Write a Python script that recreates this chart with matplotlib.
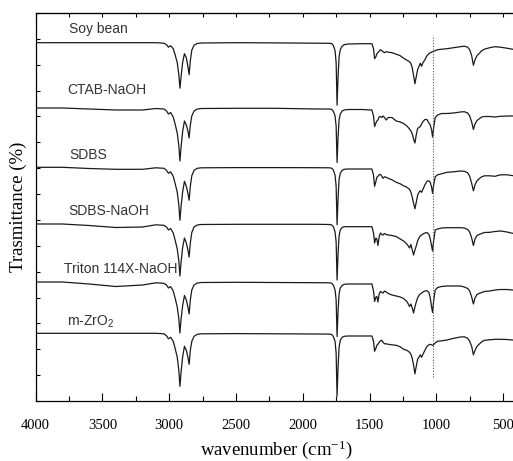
import numpy as np
import matplotlib
matplotlib.use("Agg")
import matplotlib.pyplot as plt

# FTIR spectra, stacked. Values are dips below each trace's baseline (arb. units)
wavenumber = [4000, 3800, 3600, 3400, 3200, 3100, 3040, 3020, 3006, 2990,
              2970, 2956, 2940, 2928, 2920, 2912, 2900, 2886, 2872, 2860,
              2851, 2842, 2831, 2814, 2790, 2760, 2500, 2200, 1900, 1800,
              1782, 1770, 1758, 1750, 1743, 1736, 1728, 1719, 1705, 1690,
              1660, 1560, 1482, 1470, 1462, 1452, 1445, 1437, 1428, 1418,
              1408, 1398, 1388, 1375, 1360, 1332, 1300, 1270, 1245, 1220,
              1200, 1190, 1180, 1170, 1160, 1150, 1140, 1130, 1120, 1110,
              1100, 1085, 1070, 1055, 1045, 1035, 1028, 1020, 1008, 990,
              960, 920, 870, 820, 790, 765, 750, 735, 722, 710,
              695, 680, 660, 640, 600, 560, 520, 470, 430, 400]

soy_bean = [0, 0, 0, 0, 0, 0, 0.5, 2, 4.5, 3,
            6, 12, 20, 32, 45.5, 35, 20, 11, 15, 24,
            32, 18, 7.5, 2.5, 0.8, 0.3, 0, 0.2, 0.5, 0.6,
            1, 3, 8, 20, 62.5, 35, 14, 7, 3.5, 2,
            1.3, 1, 1, 6, 16, 14, 11, 10, 8.5, 7,
            8, 9, 10, 9, 9.5, 10, 11.5, 13, 15.5, 17.5,
            19, 21, 25, 33, 41, 34, 27, 24, 20.5, 23.5,
            20, 17, 13, 11, 10, 9.5, 9, 8.5, 8, 7,
            6.5, 6, 5, 4, 3.5, 4.5, 7, 13, 22.5, 17,
            13, 11, 8, 6.5, 5, 4, 4.5, 5.5, 6.5, 7]

ctab_naoh = [0, 0, 1, 2, 2, 0.5, 1, 3, 6, 4.5,
             9, 16, 25, 38, 53, 40, 24, 13, 17, 23,
             30, 17, 8, 3, 1, 0.5, 0.3, 0.3, 1, 1,
             1.5, 3.5, 8, 18, 54.5, 30, 12, 6, 3, 2,
             1.5, 1.5, 2, 8, 18.5, 15, 13, 12, 9, 8.5,
             9.5, 8, 9.5, 12, 9.5, 9.5, 13, 14, 15.5, 18,
             21, 23, 26, 31, 35, 27, 20.5, 19.5, 18.5, 16,
             13.5, 11.5, 11.5, 15, 17, 22, 29, 20, 9.5, 7,
             5.5, 5.5, 5, 4, 3.7, 5, 8, 14, 21.5, 16,
             12.5, 11, 9, 8.5, 8.5, 9, 8.3, 8, 8, 8]

sdbs = [0, 0, 1.2, 2, 2, 0.5, 1, 3, 6, 4.5,
        9, 16, 25, 38, 53, 40, 25, 14, 19, 26,
        33, 19, 8.5, 3, 1, 0.5, 0.3, 0.3, 0.4, 0.5,
        1, 3, 8, 19, 57.5, 32, 12, 6, 3, 2,
        1.7, 1.7, 1.7, 8, 19, 14, 10, 9, 7.5, 7,
        9, 11, 9.5, 10, 11, 12.5, 15, 16.5, 18.5, 20,
        22, 25, 30, 36, 41.5, 35, 28, 25, 23.5, 25,
        22, 17.5, 14, 13.5, 15, 20, 26, 18, 9.5, 7.5,
        6.5, 5, 4.5, 3.7, 4, 5.5, 9, 16, 23.5, 17.5,
        13.5, 11.5, 9.5, 8.5, 8.5, 9, 7.5, 7.5, 8.3, 8.5]

sdbs_naoh = [0, 0, 1.5, 3.5, 3, 0.8, 1.3, 3, 6, 4.5,
             9, 16, 25, 37, 52, 39, 24, 14, 19, 26,
             33, 19, 8.5, 3, 1, 0.5, 0.3, 0.3, 0.3, 0.5,
             1, 3, 8, 18, 56, 31, 12, 6, 3.5, 2.7,
             2.7, 2.7, 2.7, 9, 19, 14, 15, 21.5, 13, 9,
             10.5, 11, 9.5, 10.5, 11, 11.5, 12.5, 15, 17, 20,
             24, 20.5, 26, 31, 26, 22, 17, 14, 12, 11,
             10, 9, 8.5, 10.5, 15, 22, 27, 17, 6, 5,
             4, 3.7, 3.7, 3.7, 4, 5.5, 8, 14, 21.5, 15,
             11.5, 10.5, 9.5, 8.5, 8.3, 7.5, 7, 8, 9.3, 9.5]

triton_naoh = [0, 0, 2, 4.5, 3, 0.8, 1.3, 3, 6, 4.5,
               9, 16, 25, 37, 51, 38, 24, 13.5, 18, 25,
               32, 18, 8, 3, 1, 0.5, 0.3, 0.5, 0.7, 0.8,
               1.3, 3.5, 8, 18, 54.5, 30, 12, 6, 3.5, 2.3,
               2, 2, 2, 9, 19.5, 15, 14.5, 20, 12, 9.5,
               10.5, 11, 9, 10, 11.5, 13, 14, 15, 16.5, 19.5,
               24.5, 22, 26, 31, 25, 20, 16, 13.5, 12, 11,
               10, 9, 8.7, 10.5, 16, 25, 30.5, 19, 8, 5.5,
               4.5, 4, 4, 4, 5, 6.5, 9, 15, 22, 16,
               12.5, 11.5, 10.5, 9.5, 9, 8, 7.5, 7.5, 8, 8]

m_zro2 = [0, 0, 0, 0, 0, 0, 0.5, 2.5, 5.5, 4,
          8, 15, 24, 37, 53, 40, 24, 13, 17, 24,
          31, 17, 8, 3, 1, 0.5, 0.3, 0.5, 0.7, 0.8,
          1.3, 3.5, 8, 20, 63, 35, 14, 7, 4, 3,
          2.7, 2.7, 2.7, 8, 18, 15, 12, 11, 9, 7.5,
          7, 9, 10.5, 10.5, 11, 11.5, 12, 13.5, 16, 17,
          19, 21, 25, 32, 40.5, 33, 26, 24, 21.5, 24,
          21, 17, 13, 11.5, 11, 11.5, 12, 11.5, 9.5, 8,
          7.5, 6.7, 5, 3.7, 3.5, 5, 8, 13, 21.5, 17,
          13, 11, 8.5, 7, 6.5, 6, 6, 6.2, 6.7, 7]

labels = ["Soy bean", "CTAB-NaOH", "SDBS", "SDBS-NaOH", "Triton 114X-NaOH",
          "m-ZrO$\\mathregular{_2}$"]
offsets = [358.3, 293, 233.7, 177, 119, 67.7]
label_x = [3753, 3760, 3748, 3753, 3786, 3768]
label_y = [367.7, 306.7, 242, 186, 127.7, 75.3]
marker_wn = 1025

spectra = [soy_bean, ctab_naoh, sdbs, sdbs_naoh, triton_naoh, m_zro2]

fig = plt.figure(figsize=(5.13, 4.61), dpi=100)
ax = fig.add_axes([35.7 / 513, 60 / 461, 480.7 / 513, 388 / 461])

x = np.array(wavenumber)
for spec, off in zip(spectra, offsets):
    ax.plot(x, off - np.array(spec), color="#1a1a1a", lw=0.9)

for lab, lx, ly in zip(labels, label_x, label_y):
    ax.text(lx, ly, lab, family="Liberation Sans", fontsize=10,
            color="#333333", ha="left", va="baseline")

ax.plot([marker_wn, marker_wn], [24.3, 366], ls=(0, (1, 1.5)), color="#555555", lw=0.8)

ax.set_xlim(4000, 400)
ax.set_ylim(0, 388)
ax.set_xticks([4000, 3500, 3000, 2500, 2000, 1500, 1000, 500])
ax.set_xticks(np.arange(3750, 400, -500), minor=True)
ax.set_yticks(np.linspace(0, 388, 16))
ax.set_yticklabels([])
ax.tick_params(axis="x", which="major", direction="in", length=6, width=0.8, pad=13,
               labelsize=10.5)
ax.tick_params(axis="x", which="minor", direction="in", length=3.5, width=0.8)
ax.tick_params(axis="y", direction="in", length=3, width=0.8)
for lab in ax.get_xticklabels():
    lab.set_family("Liberation Serif")

top = ax.secondary_xaxis("top")
top.set_xticks(np.arange(4000, 399, -250))
top.set_xticklabels([])
top.tick_params(direction="in", length=3, width=0.8)

for s in ax.spines.values():
    s.set_linewidth(0.9)

ax.set_xlabel("wavenumber (cm$\\mathregular{^{-1}}$)", family="Liberation Serif",
              fontsize=13.5, labelpad=4.5)
ax.set_ylabel("Trasmittance (%)", family="Liberation Serif", fontsize=13.5, labelpad=2.5)

fig.savefig("out.png", dpi=100)
